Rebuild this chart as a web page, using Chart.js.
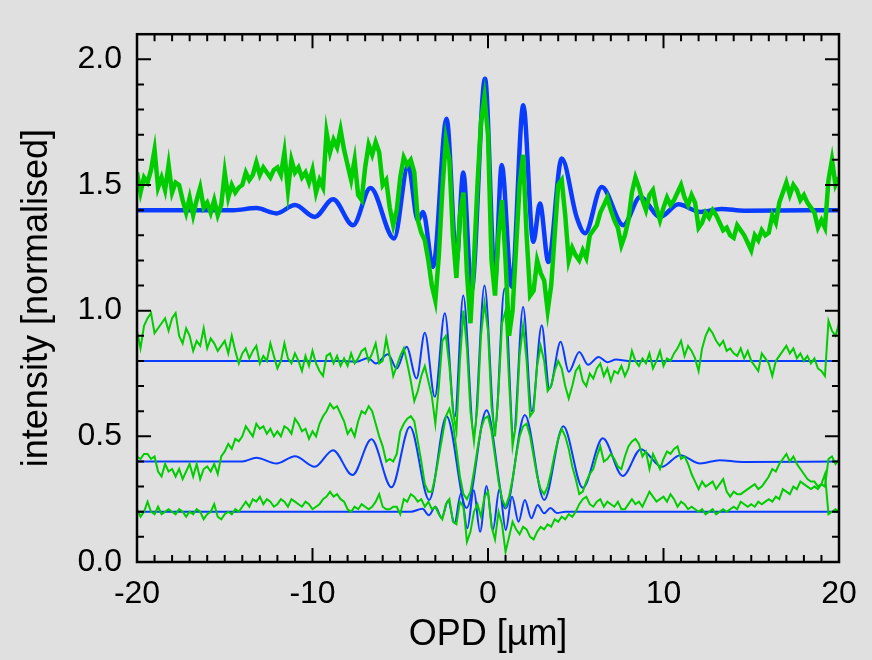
<!DOCTYPE html>
<html>
<head>
<meta charset="utf-8">
<script src="https://cdn.jsdelivr.net/npm/chart.js@4.4.1/dist/chart.umd.min.js"></script>
<style>
  html, body { margin: 0; padding: 0; background: #e0e0e0; }
  canvas { display: block; }
</style>
</head>
<body>
<canvas id="ifgChart" width="872" height="660"></canvas>
<script>
// OPD sampling of the measured (green) interferograms, in µm
const opd = [
  -20, -19.8, -19.6, -19.4, -19.2, -19, -18.8, -18.6, -18.4, -18.2,
  -18, -17.8, -17.6, -17.4, -17.2, -17, -16.8, -16.6, -16.4, -16.2,
  -16, -15.8, -15.6, -15.4, -15.2, -15, -14.8, -14.6, -14.4, -14.2,
  -14, -13.8, -13.6, -13.4, -13.2, -13, -12.8, -12.6, -12.4, -12.2,
  -12, -11.8, -11.6, -11.4, -11.2, -11, -10.8, -10.6, -10.4, -10.2,
  -10, -9.8, -9.6, -9.4, -9.2, -9, -8.8, -8.6, -8.4, -8.2,
  -8, -7.8, -7.6, -7.4, -7.2, -7, -6.8, -6.6, -6.4, -6.2,
  -6, -5.8, -5.6, -5.4, -5.2, -5, -4.8, -4.6, -4.4, -4.2,
  -4, -3.8, -3.6, -3.4, -3.2, -3, -2.8, -2.6, -2.4, -2.2,
  -2, -1.8, -1.6, -1.4, -1.2, -1, -0.8, -0.6, -0.4, -0.2,
  0, 0.2, 0.4, 0.6, 0.8, 1, 1.2, 1.4, 1.6, 1.8,
  2, 2.2, 2.4, 2.6, 2.8, 3, 3.2, 3.4, 3.6, 3.8,
  4, 4.2, 4.4, 4.6, 4.8, 5, 5.2, 5.4, 5.6, 5.8,
  6, 6.2, 6.4, 6.6, 6.8, 7, 7.2, 7.4, 7.6, 7.8,
  8, 8.2, 8.4, 8.6, 8.8, 9, 9.2, 9.4, 9.6, 9.8,
  10, 10.2, 10.4, 10.6, 10.8, 11, 11.2, 11.4, 11.6, 11.8,
  12, 12.2, 12.4, 12.6, 12.8, 13, 13.2, 13.4, 13.6, 13.8,
  14, 14.2, 14.4, 14.6, 14.8, 15, 15.2, 15.4, 15.6, 15.8,
  16, 16.2, 16.4, 16.6, 16.8, 17, 17.2, 17.4, 17.6, 17.8,
  18, 18.2, 18.4, 18.6, 18.8, 19, 19.2, 19.4, 19.6, 19.8,
  20
];

// measured, offset 1.4 (thick)
const meas1 = [
  1.55, 1.47, 1.53, 1.51, 1.56, 1.64, 1.49, 1.53, 1.48, 1.58,
  1.47, 1.51, 1.50, 1.44, 1.39, 1.45, 1.38, 1.44, 1.49, 1.41,
  1.43, 1.39, 1.44, 1.38, 1.42, 1.55, 1.45, 1.50, 1.47, 1.49,
  1.50, 1.55, 1.52, 1.54, 1.59, 1.54, 1.57, 1.55, 1.53, 1.56,
  1.57, 1.54, 1.63, 1.48, 1.60, 1.55, 1.57, 1.53, 1.55, 1.51,
  1.56, 1.47, 1.52, 1.49, 1.71, 1.63, 1.68, 1.65, 1.72, 1.64,
  1.58, 1.52, 1.60, 1.46, 1.44, 1.57, 1.66, 1.62, 1.67, 1.63,
  1.50, 1.52, 1.41, 1.34, 1.40, 1.53, 1.61, 1.58, 1.60, 1.55,
  1.36, 1.31, 1.28, 1.20, 1.10, 1.04, 1.22, 1.48, 1.68, 1.60,
  1.30, 1.13, 1.38, 1.47, 1.15, 0.95, 1.20, 1.50, 1.75, 1.85,
  1.70, 1.20, 1.06, 1.30, 1.44, 1.20, 0.90, 1.00, 1.25, 1.50,
  1.62, 1.30, 1.06, 1.08, 1.20, 1.15, 1.12, 1.00, 1.10, 1.30,
  1.50, 1.52, 1.38, 1.20, 1.25, 1.22, 1.20, 1.24, 1.21, 1.30,
  1.32, 1.34, 1.39, 1.42, 1.45, 1.40, 1.36, 1.33, 1.26, 1.30,
  1.36, 1.47, 1.53, 1.49, 1.44, 1.40, 1.46, 1.48, 1.41, 1.36,
  1.41, 1.45, 1.42, 1.44, 1.47, 1.50, 1.45, 1.42, 1.46, 1.43,
  1.33, 1.35, 1.39, 1.37, 1.40, 1.38, 1.35, 1.32, 1.33, 1.30,
  1.29, 1.34, 1.32, 1.30, 1.27, 1.24, 1.30, 1.28, 1.32, 1.30,
  1.31, 1.38, 1.35, 1.43, 1.47, 1.51, 1.46, 1.50, 1.48, 1.44,
  1.46, 1.43, 1.41, 1.39, 1.33, 1.36, 1.33, 1.52, 1.60, 1.50,
  1.53
];

// measured, offset 0.8
const meas2 = [
  0.92, 0.85, 0.94, 0.97, 0.99, 0.91, 0.93, 0.95, 0.97, 0.92,
  0.97, 0.99, 0.90, 0.87, 0.93, 0.90, 0.84, 0.88, 0.86, 0.93,
  0.85, 0.89, 0.87, 0.84, 0.86, 0.88, 0.83, 0.90, 0.84, 0.79,
  0.83, 0.85, 0.81, 0.84, 0.86, 0.79, 0.82, 0.80, 0.87, 0.82,
  0.77, 0.80, 0.87, 0.81, 0.79, 0.83, 0.80, 0.76, 0.82, 0.78,
  0.84, 0.79, 0.76, 0.74, 0.82, 0.83, 0.79, 0.82, 0.78, 0.81,
  0.78, 0.83, 0.79, 0.81, 0.84, 0.85, 0.80, 0.83, 0.87, 0.79,
  0.80, 0.89, 0.82, 0.74, 0.78, 0.82, 0.85, 0.79, 0.72, 0.64,
  0.68, 0.74, 0.78, 0.72, 0.66, 0.55, 0.70, 0.88, 0.90, 0.78,
  0.60, 0.52, 0.80, 1.00, 0.85, 0.60, 0.48, 0.62, 0.90, 1.03,
  0.92, 0.62, 0.50, 0.68, 0.95, 1.00, 0.72, 0.46, 0.55, 0.82,
  0.94, 0.80, 0.58, 0.60, 0.78, 0.86, 0.80, 0.68, 0.70, 0.76,
  0.80, 0.77, 0.70, 0.65, 0.70, 0.76, 0.78, 0.72, 0.70, 0.75,
  0.73, 0.77, 0.79, 0.74, 0.77, 0.72, 0.76, 0.75, 0.78, 0.74,
  0.77, 0.84, 0.80, 0.78, 0.81, 0.79, 0.83, 0.77, 0.80, 0.84,
  0.78, 0.81, 0.80, 0.83, 0.85, 0.88, 0.82, 0.86, 0.84, 0.81,
  0.76, 0.85, 0.90, 0.93, 0.91, 0.88, 0.86, 0.88, 0.84, 0.85,
  0.83, 0.82, 0.85, 0.81, 0.84, 0.80, 0.78, 0.76, 0.83, 0.81,
  0.79, 0.74, 0.80, 0.82, 0.84, 0.86, 0.83, 0.85, 0.81, 0.83,
  0.80, 0.82, 0.79, 0.81, 0.77, 0.76, 0.74, 0.96, 0.92, 0.90,
  0.95
];

// measured, offset 0.4
const meas3 = [
  0.42, 0.41, 0.43, 0.43, 0.41, 0.42, 0.36, 0.34, 0.39, 0.36,
  0.37, 0.34, 0.37, 0.33, 0.36, 0.39, 0.34, 0.39, 0.33, 0.37,
  0.38, 0.36, 0.39, 0.35, 0.42, 0.44, 0.47, 0.45, 0.49, 0.48,
  0.50, 0.54, 0.52, 0.50, 0.55, 0.53, 0.54, 0.51, 0.53, 0.50,
  0.52, 0.50, 0.54, 0.53, 0.51, 0.57, 0.55, 0.52, 0.53, 0.49,
  0.52, 0.50, 0.55, 0.58, 0.60, 0.63, 0.61, 0.62, 0.59, 0.56,
  0.51, 0.53, 0.50, 0.56, 0.60, 0.59, 0.62, 0.60, 0.55, 0.50,
  0.46, 0.40, 0.41, 0.40, 0.43, 0.52, 0.55, 0.57, 0.58, 0.56,
  0.48, 0.40, 0.31, 0.28, 0.28, 0.34, 0.42, 0.50, 0.58, 0.61,
  0.55, 0.45, 0.34, 0.27, 0.25, 0.28, 0.36, 0.45, 0.53, 0.57,
  0.58, 0.52, 0.42, 0.32, 0.25, 0.22, 0.26, 0.33, 0.42, 0.50,
  0.54, 0.55, 0.50, 0.42, 0.34, 0.29, 0.27, 0.30, 0.36, 0.43,
  0.49, 0.53, 0.50, 0.45, 0.38, 0.33, 0.27, 0.28, 0.32, 0.35,
  0.37, 0.42, 0.46, 0.40, 0.41, 0.43, 0.41, 0.38, 0.37, 0.42,
  0.46, 0.48, 0.49, 0.47, 0.42, 0.44, 0.37, 0.43, 0.40, 0.37,
  0.41, 0.44, 0.43, 0.45, 0.46, 0.41, 0.42, 0.39, 0.35, 0.32,
  0.29, 0.32, 0.30, 0.31, 0.32, 0.29, 0.31, 0.33, 0.28, 0.26,
  0.28, 0.27, 0.27, 0.28, 0.29, 0.30, 0.31, 0.29, 0.30, 0.32,
  0.34, 0.37, 0.36, 0.39, 0.41, 0.43, 0.40, 0.42, 0.39, 0.37,
  0.35, 0.33, 0.32, 0.32, 0.30, 0.31, 0.30, 0.41, 0.42, 0.39,
  0.41
];

// measured, offset 0.2
const meas4 = [
  0.21, 0.18, 0.20, 0.24, 0.20, 0.19, 0.22, 0.19, 0.20, 0.21,
  0.20, 0.19, 0.21, 0.20, 0.18, 0.20, 0.19, 0.21, 0.20, 0.17,
  0.19, 0.20, 0.23, 0.18, 0.17, 0.19, 0.20, 0.19, 0.21, 0.20,
  0.22, 0.24, 0.22, 0.25, 0.24, 0.26, 0.23, 0.25, 0.24, 0.22,
  0.23, 0.25, 0.24, 0.22, 0.25, 0.24, 0.23, 0.22, 0.24, 0.23,
  0.21, 0.22, 0.23, 0.25, 0.26, 0.28, 0.26, 0.27, 0.25, 0.24,
  0.21, 0.20, 0.22, 0.21, 0.23, 0.22, 0.21, 0.22, 0.24, 0.27,
  0.22, 0.21, 0.21, 0.22, 0.22, 0.19, 0.25, 0.24, 0.27, 0.26,
  0.24, 0.25, 0.22, 0.24, 0.21, 0.22, 0.19, 0.17, 0.23, 0.25,
  0.16, 0.15, 0.24, 0.22, 0.08, 0.12, 0.20, 0.23, 0.18, 0.26,
  0.28, 0.14, 0.09, 0.20, 0.15, 0.04, 0.10, 0.16, 0.13, 0.11,
  0.14, 0.13, 0.10, 0.09, 0.12, 0.14, 0.13, 0.15, 0.14, 0.17,
  0.16, 0.18, 0.17, 0.19, 0.18, 0.20, 0.23, 0.25, 0.26, 0.23,
  0.22, 0.24, 0.25, 0.22, 0.24, 0.23, 0.22, 0.24, 0.21, 0.21,
  0.23, 0.25, 0.23, 0.24, 0.22, 0.25, 0.28, 0.26, 0.24, 0.25,
  0.26, 0.24, 0.27, 0.25, 0.22, 0.24, 0.23, 0.21, 0.22, 0.21,
  0.20, 0.21, 0.19, 0.20, 0.21, 0.19, 0.20, 0.21, 0.20, 0.21,
  0.22, 0.21, 0.24, 0.23, 0.22, 0.23, 0.22, 0.24, 0.23, 0.24,
  0.25, 0.24, 0.26, 0.25, 0.29, 0.28, 0.27, 0.30, 0.29, 0.32,
  0.31, 0.30, 0.29, 0.30, 0.29, 0.31, 0.35, 0.19, 0.20, 0.21,
  0.20
];

// model (blue) curves: turning points
const model1X = [-20, -14.5, -13.2, -12.06, -11.0, -9.87, -8.83, -7.69, -6.7, -5.35, -4.55, -4.0, -3.7, -3.13,
  -2.36, -1.79, -1.41, -0.94, -0.17, 0.4, 0.78, 1.35, 2.01, 2.58, 2.96, 3.44, 4.2, 5.05, 5.53, 6.48, 7.71,
  8.67, 9.81, 10.85, 12.09, 13.3, 14.6, 20];
const model1Y = [1.4, 1.4, 1.408, 1.387, 1.42, 1.373, 1.443, 1.34, 1.488, 1.287, 1.578, 1.36, 1.393, 1.174,
  1.764, 1.2, 1.55, 1.08, 1.923, 1.12, 1.58, 1.095, 1.817, 1.274, 1.426, 1.194, 1.605, 1.373, 1.308, 1.492, 1.34,
  1.452, 1.373, 1.423, 1.393, 1.405, 1.398, 1.4];

const model2X = [-20, -8.5, -7.5, -6.83, -6.4, -5.7, -5.2, -4.64, -4.07, -3.6, -3.03, -2.46, -1.89, -1.41,
  -0.8, -0.2, 0.4, 0.94, 1.45, 2.0, 2.5, 3.06, 3.5, 4.14, 4.6, 5.2, 5.7, 6.3, 6.8, 7.3, 8.0, 20];
const model2Y = [0.8, 0.8, 0.797, 0.812, 0.79, 0.827, 0.77, 0.856, 0.73, 0.912, 0.657, 0.99, 0.578, 1.06,
  0.51, 1.1, 0.53, 1.088, 0.5, 1.015, 0.6, 0.942, 0.69, 0.876, 0.757, 0.836, 0.785, 0.816, 0.795, 0.806, 0.8, 0.8];

const model3X = [-20, -14, -13.2, -12.06, -11.0, -9.87, -8.83, -7.72, -6.64, -5.5, -4.45, -3.35, -2.36, -1.22,
  -0.08, 1.0, 2.1, 3.2, 4.29, 5.4, 6.54, 7.68, 8.71, 9.9, 10.95, 12.09, 13.2, 14.5, 20];
const model3Y = [0.4, 0.4, 0.415, 0.392, 0.421, 0.379, 0.445, 0.346, 0.488, 0.297, 0.538, 0.247, 0.58, 0.215,
  0.604, 0.213, 0.585, 0.247, 0.54, 0.295, 0.492, 0.342, 0.449, 0.379, 0.425, 0.392, 0.405, 0.398, 0.4];

const model4X = [-20, -4.4, -3.73, -3.37, -3.0, -2.64, -2.27, -1.91, -1.54, -1.18, -0.81, -0.45, -0.08, 0.28,
  0.65, 1.01, 1.37, 1.74, 2.1, 2.47, 2.83, 3.2, 3.56, 3.93, 4.4, 20];
const model4Y = [0.2, 0.2, 0.212, 0.186, 0.22, 0.175, 0.245, 0.154, 0.273, 0.134, 0.285, 0.12, 0.302, 0.128,
  0.29, 0.127, 0.26, 0.16, 0.247, 0.174, 0.227, 0.194, 0.215, 0.195, 0.2, 0.2];

const xTicks = [-20, -10, 0, 10, 20];
const yTicks = [0, 0.5, 1.0, 1.5, 2.0];

const BLUE = '#0a3cff';
const GREEN = '#00cc00';
const FONT = "'Liberation Sans', Arial, sans-serif";

const pts = (xs, ys) => xs.map((x, i) => ({ x: x, y: ys[i] }));

const measured = (data, width) => ({
    data: pts(opd, data),
    borderColor: GREEN,
    borderWidth: width,
    pointRadius: 0,
    tension: 0
});
const model = (xs, ys, width) => ({
    data: pts(xs, ys),
    borderColor: BLUE,
    borderWidth: width,
    pointRadius: 0,
    cubicInterpolationMode: 'monotone'
});

// box with inward ticks on all four sides
const frame = {
    id: 'frame',
    afterDatasetsDraw(chart) {
        const { ctx, chartArea: a, scales: { x, y } } = chart;
        ctx.save();
        ctx.strokeStyle = '#000';
        ctx.lineWidth = 2;
        ctx.beginPath();
        for (let v = -20; v <= 20; v++) {
            const px = x.getPixelForValue(v);
            const len = v % 10 === 0 ? 14 : 7;
            ctx.moveTo(px, a.bottom); ctx.lineTo(px, a.bottom - len);
            ctx.moveTo(px, a.top); ctx.lineTo(px, a.top + len);
        }
        for (let i = 0; i <= 20; i++) {
            const py = y.getPixelForValue(i / 10);
            const len = i % 5 === 0 ? 14 : 7;
            ctx.moveTo(a.left, py); ctx.lineTo(a.left + len, py);
            ctx.moveTo(a.right, py); ctx.lineTo(a.right - len, py);
        }
        ctx.stroke();
        ctx.lineWidth = 2.5;
        ctx.strokeRect(a.left, a.top, a.right - a.left, a.bottom - a.top);
        ctx.restore();
    }
};

new Chart(document.getElementById('ifgChart'), {
    type: 'line',
    data: {
        datasets: [
            measured(meas1, 4.5),
            model(model1X, model1Y, 4.5),
            measured(meas2, 2),
            model(model2X, model2Y, 2),
            measured(meas3, 2),
            model(model3X, model3Y, 2),
            measured(meas4, 2),
            model(model4X, model4Y, 2)
        ]
    },
    options: {
        responsive: false,
        animation: false,
        layout: { padding: { top: 34, right: 33, left: 0, bottom: 0 } },
        plugins: { legend: { display: false }, tooltip: { enabled: false } },
        scales: {
            x: {
                type: 'linear',
                min: -20,
                max: 20,
                grid: { display: false, drawTicks: false },
                border: { display: false },
                afterBuildTicks: s => { s.ticks = xTicks.map(v => ({ value: v })); },
                afterFit: s => { s.height = 98; },
                ticks: {
                    color: '#000',
                    padding: 13,
                    maxRotation: 0,
                    autoSkip: false,
                    font: { family: FONT, size: 32 },
                    callback: v => String(v)
                },
                title: {
                    display: true,
                    text: 'OPD [µm]',
                    color: '#000',
                    font: { family: FONT, size: 36, lineHeight: 1.2 },
                    padding: { top: 0, bottom: 3 }
                }
            },
            y: {
                min: 0,
                max: 2.1,
                grid: { display: false, drawTicks: false },
                border: { display: false },
                afterBuildTicks: s => { s.ticks = yTicks.map(v => ({ value: v })); },
                afterFit: s => { s.width = 137; },
                ticks: {
                    color: '#000',
                    padding: 15,
                    font: { family: FONT, size: 32 },
                    callback: v => v.toFixed(1)
                },
                title: {
                    display: true,
                    text: 'intensity [normalised]',
                    color: '#000',
                    font: { family: FONT, size: 36, lineHeight: 1.2 },
                    padding: { top: 15, bottom: 0 }
                }
            }
        }
    },
    plugins: [frame]
});
</script>
</body>
</html>
